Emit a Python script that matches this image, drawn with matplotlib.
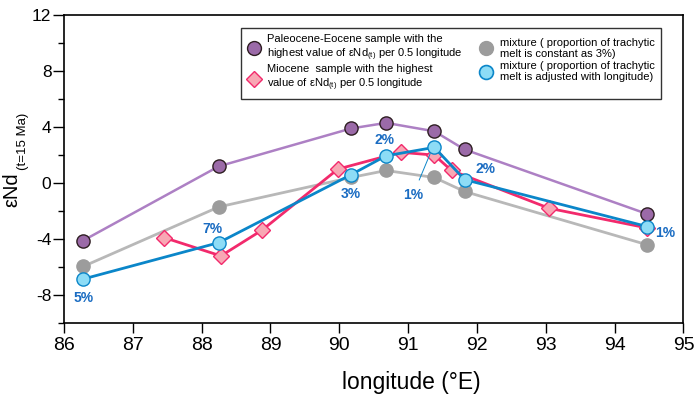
import numpy as np
import matplotlib
matplotlib.use("Agg")
import matplotlib.pyplot as plt
from matplotlib.lines import Line2D
from matplotlib.ticker import MultipleLocator

plt.rcParams['font.family'] = ['Liberation Sans', 'DejaVu Sans']
plt.rcParams['mathtext.fontset'] = 'custom'
plt.rcParams['mathtext.rm'] = 'Liberation Sans'
plt.rcParams['mathtext.it'] = 'Liberation Sans:italic'
plt.rcParams['axes.unicode_minus'] = False

# Paleocene-Eocene, highest eNd per 0.5 longitude
paleo_lon = [86.28, 88.25, 90.17, 90.68, 91.38, 91.82, 94.47]
paleo_end = [-4.1, 1.2, 3.9, 4.3, 3.7, 2.4, -2.2]

# Miocene, highest eNd per 0.5 longitude
mio_lon = [87.46, 88.28, 88.88, 89.98, 90.89, 91.38, 91.63, 93.05, 94.47]
mio_end = [-3.9, -5.2, -3.35, 1.0, 2.2, 2.0, 0.9, -1.8, -3.2]

# mixture, trachytic melt constant at 3%
mix3_lon = [86.28, 88.25, 90.17, 90.68, 91.38, 91.82, 94.47]
mix3_end = [-5.95, -1.7, 0.4, 0.9, 0.4, -0.6, -4.4]

# mixture, trachytic melt adjusted with longitude
mixadj_lon = [86.28, 88.25, 90.17, 90.68, 91.38, 91.82, 94.47]
mixadj_end = [-6.85, -4.25, 0.6, 1.95, 2.55, 0.25, -3.1]
mixadj_pct = ['5%', '7%', '3%', '2%', '1%', '2%', '1%']
# where each percentage label sits (lon, eNd)
pct_lon = [86.28, 88.15, 90.17, 90.65, 91.07, 92.12, 94.73]
pct_end = [-8.2, -3.3, -0.8, 3.1, -0.85, 1.0, -3.55]

c_paleo_line = '#ad80c4'
c_paleo_face = '#9b6aa8'
c_gray_line = '#b8b8b8'
c_gray_face = '#9c9c9c'
c_pink_line = '#f22a6c'
c_pink_face = '#f8a7b4'
c_blue_line = '#0b86c9'
c_blue_face = '#8ddcf6'
c_text = '#1a6cc2'

fig = plt.figure(figsize=(7, 3.96), dpi=100)
ax = fig.add_axes([0.0914, 0.184, 0.885, 0.778])

ax.plot(mix3_lon, mix3_end, color=c_gray_line, lw=2, marker='o', ms=9.5,
        mfc=c_gray_face, mec=c_gray_face, zorder=2)
ax.plot(paleo_lon, paleo_end, color=c_paleo_line, lw=1.8, marker='o', ms=9.5,
        mfc=c_paleo_face, mec='#2e1e22', mew=1, zorder=3)
ax.plot(mio_lon, mio_end, color=c_pink_line, lw=2, marker='D', ms=8,
        mfc=c_pink_face, mec=c_pink_line, mew=1, zorder=4)
ax.plot(mixadj_lon, mixadj_end, color=c_blue_line, lw=2, marker='o', ms=9.5,
        mfc=c_blue_face, mec=c_blue_line, mew=1, zorder=5)

for i in range(len(mixadj_pct)):
    if i == 4:
        ax.annotate(mixadj_pct[i], xy=(91.32, 2.1), xytext=(pct_lon[i], pct_end[i]),
                    ha='center', va='center', fontsize=10, fontweight='bold', color=c_text,
                    arrowprops=dict(arrowstyle='-', color=c_blue_line, lw=0.7,
                                    shrinkA=4, shrinkB=0), zorder=6)
    else:
        ax.text(pct_lon[i], pct_end[i], mixadj_pct[i], ha='center', va='center',
                fontsize=10, fontweight='bold', color=c_text, zorder=6)

ax.set_xlim(86, 95)
ax.set_ylim(-10, 12)
ax.xaxis.set_major_locator(MultipleLocator(1))
ax.yaxis.set_major_locator(MultipleLocator(4))
ax.yaxis.set_minor_locator(MultipleLocator(2))
ax.tick_params(axis='x', direction='out', length=7, width=1, labelsize=14, pad=3)
ax.tick_params(axis='y', which='major', direction='out', length=8, width=1, labelsize=12.5, pad=1)
ax.tick_params(axis='y', which='minor', direction='out', length=4, width=1)
for s in ax.spines.values():
    s.set_linewidth(1.2)

ax.set_xlabel('longitude (°E)', fontsize=16.5)
ax.xaxis.set_label_coords(0.56, -0.155)
# y label: big εNd with small subscript, as two rotated texts
fig.text(12 / 700, 1 - 172 / 396, 'εNd', rotation=90, fontsize=14.5,
         ha='center', va='top')
fig.text(23 / 700, 1 - 170 / 396, '(t=15 Ma)', rotation=90, fontsize=9.5,
         ha='center', va='bottom')

handles = [
    Line2D([], [], ls='none', marker='o', ms=10, mfc=c_paleo_face, mec='#2e1e22', mew=1),
    Line2D([], [], ls='none', marker='D', ms=8, mfc=c_pink_face, mec=c_pink_line, mew=1),
    Line2D([], [], ls='none', marker='o', ms=10, mfc=c_gray_face, mec=c_gray_face),
    Line2D([], [], ls='none', marker='o', ms=10, mfc=c_blue_face, mec=c_blue_line, mew=1.2),
]
labels = [
    'Paleocene-Eocene sample with the\nhighest value of εNd$_{\\mathrm{(t)}}$ per 0.5 longitude',
    'Miocene  sample with the highest\nvalue of εNd$_{\\mathrm{(t)}}$ per 0.5 longitude',
    'mixture ( proportion of trachytic\nmelt is constant as 3%)',
    'mixture ( proportion of trachytic\nmelt is adjusted with longitude)',
]
leg = ax.legend(handles, labels, loc='upper right', bbox_to_anchor=(0.963, 0.958),
                ncol=2, fontsize=8, frameon=True, fancybox=False, borderaxespad=0,
                handlelength=1.2, handletextpad=0.6, columnspacing=1.5,
                labelspacing=0.15, borderpad=0.55)
leg.get_frame().set_edgecolor('black')
leg.get_frame().set_linewidth(1)

fig.savefig('out.png', dpi=100)
